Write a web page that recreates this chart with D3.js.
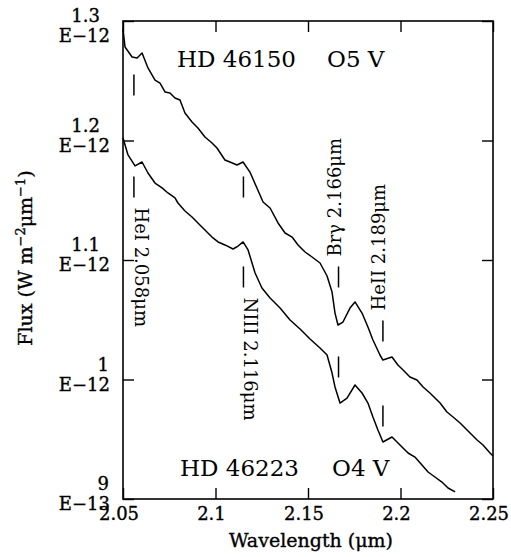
<!DOCTYPE html>
<meta charset="utf-8">
<style>
body { margin: 0; background: #fff; }
text { font-family: "DejaVu Serif", serif; fill: #000; }
.frame { fill: none; stroke: #000; stroke-width: 1.6px; }
.spectrum { fill: none; stroke: #000; stroke-width: 1.5px; stroke-linejoin: round; }
.marker { stroke: #000; stroke-width: 1.5px; }
.tick line { stroke: #000; stroke-width: 1.4px; }
.axislabel { stroke: #000; stroke-width: 0.35px; }
</style>
<svg width="511" height="557"></svg>
<script src="https://cdn.jsdelivr.net/npm/d3@7"></script>
<script>

// HD 46150 (O5 V), flux in units of 1E-12 W m^-2 um^-1
var hd46150Wave = [2.0500, 2.0511, 2.0549, 2.0576, 2.0603, 2.0635, 2.0673, 2.0700, 2.0727, 2.0754,
                   2.0781, 2.0808, 2.0835, 2.0873, 2.0905, 2.0943, 2.0981, 2.1008, 2.1051, 2.1078,
                   2.1116, 2.1149, 2.1186, 2.1224, 2.1257, 2.1295, 2.1338, 2.1376, 2.1414, 2.1446,
                   2.1484, 2.1522, 2.1565, 2.1603, 2.1630, 2.1646, 2.1662, 2.1689, 2.1727, 2.1754,
                   2.1792, 2.1824, 2.1851, 2.1889, 2.1905, 2.1954, 2.1986, 2.2014, 2.2051, 2.2089,
                   2.2122, 2.2159, 2.2214, 2.2251, 2.2284, 2.2322, 2.2376, 2.2414, 2.2446, 2.2484,
                   2.2500];
var hd46150Flux = [1.2933, 1.2782, 1.2699, 1.2690, 1.2732, 1.2607, 1.2506, 1.2481, 1.2406, 1.2397,
                   1.2356, 1.2339, 1.2230, 1.2155, 1.2105, 1.2029, 1.1979, 1.1937, 1.1837, 1.1820,
                   1.1795, 1.1820, 1.1736, 1.1603, 1.1485, 1.1435, 1.1310, 1.1226, 1.1192, 1.1126,
                   1.1067, 1.1025, 1.0975, 1.0866, 1.0732, 1.0556, 1.0456, 1.0481, 1.0598, 1.0649,
                   1.0556, 1.0439, 1.0331, 1.0205, 1.0163, 1.0188, 1.0121, 1.0079, 1.0021, 0.9996,
                   0.9937, 0.9887, 0.9803, 0.9728, 0.9686, 0.9636, 0.9552, 0.9494, 0.9452, 0.9385,
                   0.9360];

// HD 46223 (O4 V)
var hd46223Wave = [2.0500, 2.0527, 2.0565, 2.0603, 2.0635, 2.0673, 2.0711, 2.0743, 2.0781, 2.0797,
                   2.0835, 2.0873, 2.0905, 2.0943, 2.0981, 2.1014, 2.1051, 2.1095, 2.1122, 2.1149,
                   2.1176, 2.1214, 2.1251, 2.1295, 2.1349, 2.1403, 2.1457, 2.1511, 2.1565, 2.1603,
                   2.1630, 2.1646, 2.1673, 2.1711, 2.1754, 2.1792, 2.1824, 2.1851, 2.1878, 2.1905,
                   2.1954, 2.1981, 2.2008, 2.2041, 2.2078, 2.2116, 2.2149, 2.2186, 2.2224, 2.2257,
                   2.2295];
var hd46223Flux = [1.2021, 1.1879, 1.1787, 1.1820, 1.1728, 1.1644, 1.1603, 1.1561, 1.1519, 1.1477,
                   1.1410, 1.1360, 1.1310, 1.1251, 1.1192, 1.1151, 1.1126, 1.1092, 1.1117, 1.1151,
                   1.1084, 1.0891, 1.0766, 1.0682, 1.0598, 1.0498, 1.0423, 1.0339, 1.0264, 1.0205,
                   1.0054, 0.9937, 0.9803, 0.9845, 0.9954, 0.9887, 0.9803, 0.9686, 0.9577, 0.9477,
                   0.9519, 0.9477, 0.9435, 0.9385, 0.9351, 0.9285, 0.9226, 0.9184, 0.9142, 0.9092,
                   0.9059];

// axis ticks
var xTicks = [2.05, 2.1, 2.15, 2.2, 2.25];
var xTickLabels = ["2.05", "2.1", "2.15", "2.2", "2.25"];
var yTicks = [0.9, 1.0, 1.1, 1.2, 1.3];
var yTickMantissa = ["9", "1", "1.1", "1.2", "1.3"];
var yTickExponent = ["E\u221213", "E\u221212", "E\u221212", "E\u221212", "E\u221212"];

// spectral line identifications
var lineLabels = ["HeI 2.058\u03bcm", "NIII 2.116\u03bcm", "Br\u03b3 2.166\u03bcm", "HeII 2.189\u03bcm"];
var lineWave = [2.0559, 2.1151, 2.1665, 2.1905];
var lineUpperDash = [1.2464, 1.1611, 1.0858, 1.0406];
var lineLowerDash = [1.1611, 1.0858, 1.0105, 0.9695];
var lineLabelSide = ["below", "below", "above", "above"];

// star names
var starNames = ["HD 46150", "HD 46223"];
var starTypes = ["O5 V", "O4 V"];
var starNameWave = [2.0792, 2.0808];
var starTypeWave = [2.1603, 2.1630];
var starLabelFlux = [1.2615, 0.9192];

var svg = d3.select("svg"),
    width = +svg.attr("width"),
    height = +svg.attr("height");

svg.append("rect")
   .attr("width", width)
   .attr("height", height)
   .attr("fill", "#fff");

var x = d3.scaleLinear().domain([2.05, 2.25]).range([123, 493]);
var y = d3.scaleLinear().domain([0.9, 1.3]).range([499, 21]);

var tickLen = 11;

// ticks on all four sides, pointing inward
function tickAxis(axis, tx, ty) {
        var g = svg.append("g")
                   .attr("transform", "translate(" + tx + "," + ty + ")")
                   .call(axis);
        g.select(".domain").remove();
        g.selectAll("text").remove();
        return g;
}

tickAxis(d3.axisBottom(x).tickValues(xTicks).tickSizeInner(-tickLen).tickSizeOuter(0), 0, y(0.9));
tickAxis(d3.axisTop(x).tickValues(xTicks).tickSizeInner(-tickLen).tickSizeOuter(0), 0, y(1.3));
tickAxis(d3.axisLeft(y).tickValues(yTicks).tickSizeInner(-tickLen).tickSizeOuter(0), x(2.05), 0);
tickAxis(d3.axisRight(y).tickValues(yTicks).tickSizeInner(-tickLen).tickSizeOuter(0), x(2.25), 0);

svg.append("rect")
   .attr("class", "frame")
   .attr("x", x(2.05))
   .attr("y", y(1.3))
   .attr("width", x(2.25) - x(2.05))
   .attr("height", y(0.9) - y(1.3));

// x tick labels
svg.append("g")
   .selectAll("text")
   .data(xTicks)
   .join("text")
   .attr("class", "axislabel")
   .attr("x", d => x(d) - 4)
   .attr("y", y(0.9) + 21)
   .attr("text-anchor", "middle")
   .style("font-size", "18px")
   .text((d, i) => xTickLabels[i]);

// y tick labels, mantissa over exponent
var yLab = svg.append("g")
              .selectAll("g")
              .data(yTicks)
              .join("g")
              .attr("transform", function(d) {
                      var shift = y(d) - 9 < 20 ? 10 : 0;
                      return "translate(0," + (y(d) + shift) + ")";
              });

yLab.append("text")
    .attr("class", "axislabel")
    .attr("x", (d, i) => yTickMantissa[i].indexOf(".") >= 0 ? 100 : 109)
    .attr("y", -9)
    .attr("text-anchor", "end")
    .style("font-size", "18px")
    .text((d, i) => yTickMantissa[i]);

yLab.append("text")
    .attr("class", "axislabel")
    .attr("x", 110)
    .attr("y", 11)
    .attr("text-anchor", "end")
    .style("font-size", "18px")
    .text((d, i) => yTickExponent[i]);

// axis titles
svg.append("text")
   .attr("class", "axislabel")
   .attr("x", (x(2.05) + x(2.25)) / 2 + 3)
   .attr("y", 547)
   .attr("text-anchor", "middle")
   .style("font-size", "19px")
   .text("Wavelength (\u03bcm)");

var ylabel = svg.append("text")
   .attr("class", "axislabel")
   .attr("transform", "translate(32," + (y(1.1) - 2) + ") rotate(-90)")
   .attr("text-anchor", "middle")
   .style("font-size", "19px");
ylabel.append("tspan").text("Flux (W m");
ylabel.append("tspan").attr("dy", -7).style("font-size", "13px").text("\u22122");
ylabel.append("tspan").attr("dy", 7).text("\u03bcm");
ylabel.append("tspan").attr("dy", -7).style("font-size", "13px").text("\u22121");
ylabel.append("tspan").attr("dy", 7).text(")");

// spectra
var line = d3.line()
             .x(d => x(d[0]))
             .y(d => y(d[1]));

svg.append("path")
   .attr("class", "spectrum")
   .attr("d", line(d3.zip(hd46150Wave, hd46150Flux)));

svg.append("path")
   .attr("class", "spectrum")
   .attr("d", line(d3.zip(hd46223Wave, hd46223Flux)));

// line markers
var dashHalf = 10.5;
var marks = svg.append("g");
lineWave.forEach(function(w, i) {
        [lineUpperDash[i], lineLowerDash[i]].forEach(function(f) {
                marks.append("line")
                     .attr("class", "marker")
                     .attr("x1", x(w))
                     .attr("x2", x(w))
                     .attr("y1", y(f) - dashHalf)
                     .attr("y2", y(f) + dashHalf);
        });
        var lx, ly, rot;
        if (lineLabelSide[i] == "below") {
                lx = x(w) + 1;
                ly = y(lineLowerDash[i]) + dashHalf + 10;
                rot = 90;
        } else {
                lx = x(w) + 2;
                ly = y(lineUpperDash[i]) - dashHalf - 10;
                rot = -90;
        }
        marks.append("text")
             .attr("transform", "translate(" + lx + "," + ly + ") rotate(" + rot + ")")
             .style("font-size", "18px")
             .text(lineLabels[i]);
});

// star names
starNames.forEach(function(name, i) {
        svg.append("text")
           .attr("x", x(starNameWave[i]))
           .attr("y", y(starLabelFlux[i]))
           .style("font-size", "23px")
           .text(name);
        svg.append("text")
           .attr("x", x(starTypeWave[i]))
           .attr("y", y(starLabelFlux[i]))
           .style("font-size", "23px")
           .text(starTypes[i]);
});

</script>
